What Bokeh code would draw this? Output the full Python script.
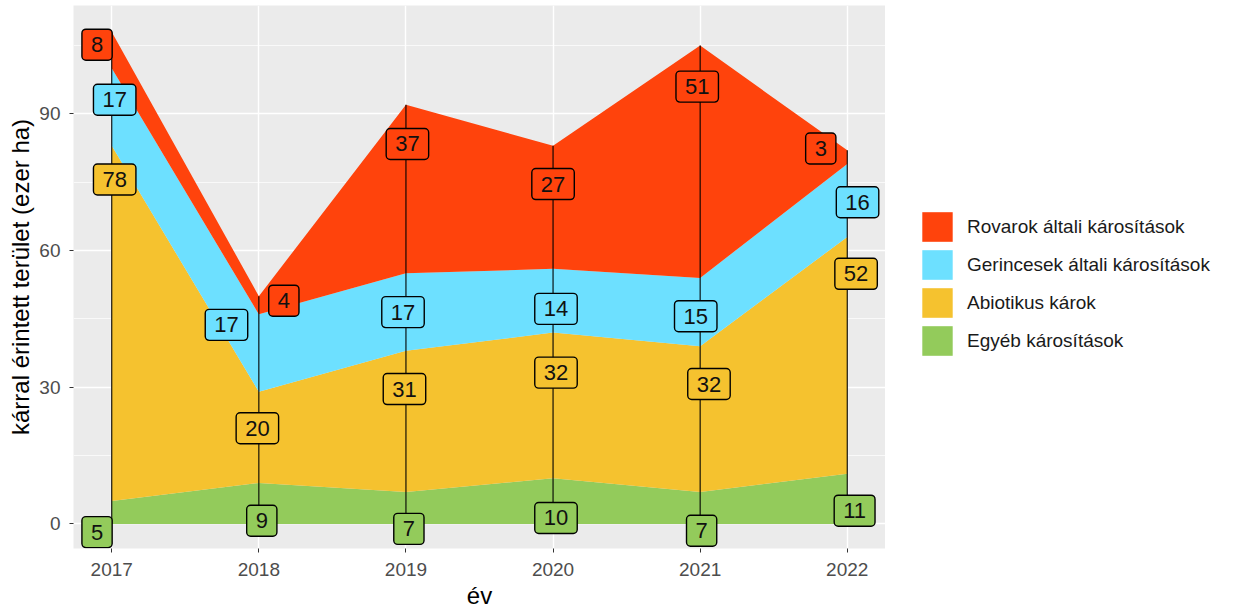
from bokeh.plotting import figure
from bokeh.layouts import row
from bokeh.models import FixedTicker, Legend, LegendItem, Range1d, ColumnDataSource
from bokeh.core.properties import value
from bokeh.embed import file_html
from bokeh.resources import INLINE

# ---------------- data ----------------
years = [2017, 2018, 2019, 2020, 2021, 2022]
x_tick_labels = ["2017", "2018", "2019", "2020", "2021", "2022"]
y_ticks = [0, 30, 60, 90]
y_minor_ticks = [15, 45, 75, 105]

series_names = ["Egyéb károsítások", "Abiotikus károk",
                "Gerincesek általi károsítások", "Rovarok általi károsítások"]
egyeb = [5, 9, 7, 10, 7, 11]
abiotikus = [78, 20, 31, 32, 32, 52]
gerincesek = [17, 17, 17, 14, 15, 16]
rovarok = [8, 4, 37, 27, 51, 3]

# ---------------- styles / layout ----------------
colors = ["#93CB5B", "#F5C22F", "#6DE0FF", "#FF430C"]
FONT = "Liberation Sans"

# label positions (repelled label placement, data units)
lab_x = [
    [2016.90, 2018.02, 2019.02, 2020.02, 2021.01, 2022.05],   # Egyéb
    [2017.02, 2017.99, 2018.99, 2020.02, 2021.06, 2022.06],   # Abiotikus
    [2017.02, 2017.78, 2018.98, 2020.02, 2020.97, 2022.07],   # Gerincesek
    [2016.90, 2018.17, 2019.01, 2020.00, 2020.98, 2021.82],   # Rovarok
]
lab_y = [
    [-1.8, 0.7, -1.1, 1.3, -1.5, 2.9],
    [75.6, 21.0, 29.6, 33.2, 30.7, 54.9],
    [93.1, 43.7, 46.5, 47.2, 45.6, 70.6],
    [105.2, 49.0, 83.4, 74.6, 96.0, 82.4],
]

values = [egyeb, abiotikus, gerincesek, rovarok]
keys = ["egyeb", "abiotikus", "gerincesek", "rovarok"]
src = ColumnDataSource(dict(year=years, egyeb=egyeb, abiotikus=abiotikus,
                            gerincesek=gerincesek, rovarok=rovarok))
totals = [sum(v) for v in zip(*values)]

H = 611
p = figure(width=885, height=H, output_backend="svg", toolbar_location=None,
           x_range=Range1d(2016.74, 2022.26), y_range=Range1d(-5.4, 113.8),
           min_border_left=73, min_border_right=0, min_border_top=5,
           min_border_bottom=H - 548)

p.background_fill_color = "#EBEBEB"
p.border_fill_color = "white"
p.outline_line_color = None

areas = p.varea_stack(stackers=keys, x="year", color=colors, source=src)

p.segment(x0=years, y0=[0] * len(years), x1=years, y1=totals,
          line_color="black", line_width=1.1)

for i in range(4):
    p.text(x=lab_x[i], y=lab_y[i], text=[str(v) for v in values[i]],
           text_align="center", text_baseline="middle",
           text_font=value(FONT), text_font_size="22px", text_color="#111111",
           background_fill_color=colors[i], border_line_color="black",
           border_line_width=1.4, border_radius=4, padding=(9, 8))

# axes
p.xaxis.ticker = FixedTicker(ticks=years)
p.xaxis.major_label_overrides = {y: t for y, t in zip(years, x_tick_labels)}
p.yaxis.ticker = FixedTicker(ticks=y_ticks, minor_ticks=y_minor_ticks)
for ax in (p.xaxis, p.yaxis):
    ax.axis_line_color = None
    ax.major_tick_line_color = "#333333"
    ax.major_tick_in = 0
    ax.major_tick_out = 4
    ax.minor_tick_line_color = None
    ax.major_label_text_font = FONT
    ax.major_label_text_font_size = "19px"
    ax.major_label_text_color = "#4D4D4D"
    ax.axis_label_text_font = FONT
    ax.axis_label_text_font_size = "24px"
    ax.axis_label_text_font_style = "normal"
    ax.axis_label_text_color = "black"
p.xaxis.axis_label = "év"
p.yaxis.axis_label = "kárral érintett terület (ezer ha)"
p.xaxis.major_label_standoff = 10
p.yaxis.major_label_standoff = 9
p.xaxis.axis_label_standoff = 3
p.yaxis.axis_label_standoff = 2

p.xgrid.grid_line_color = "white"
p.xgrid.grid_line_width = 1.4
p.ygrid.grid_line_color = "white"
p.ygrid.grid_line_width = 1.4
p.ygrid.minor_grid_line_color = "white"
p.ygrid.minor_grid_line_width = 0.7

# legend in a separate panel to the right of the plot
pl = figure(width=1225 - 885, height=H, output_backend="svg", toolbar_location=None,
            x_range=Range1d(0, 1), y_range=Range1d(0, 1),
            min_border_left=0, min_border_right=0, min_border_top=0,
            min_border_bottom=0)
pl.axis.visible = False
pl.grid.visible = False
pl.outline_line_color = None
pl.background_fill_color = "white"
dummies = [pl.rect(x=[5], y=[5], width=1, height=1, fill_color=colors[i],
                   line_color=None) for i in range(4)]
legend = Legend(items=[LegendItem(label=series_names[i], renderers=[dummies[i]])
                       for i in [3, 2, 1, 0]],
                location=(33, H - 358 - 64), orientation="vertical",
                glyph_width=38, glyph_height=37, spacing=1, padding=0, margin=0,
                label_standoff=11, label_height=37,
                label_text_font=FONT, label_text_font_size="19px",
                label_text_color="#1A1A1A",
                background_fill_alpha=0, border_line_color=None)
pl.add_layout(legend, "center")

open("out.html", "w").write(file_html(row(p, pl), INLINE))
